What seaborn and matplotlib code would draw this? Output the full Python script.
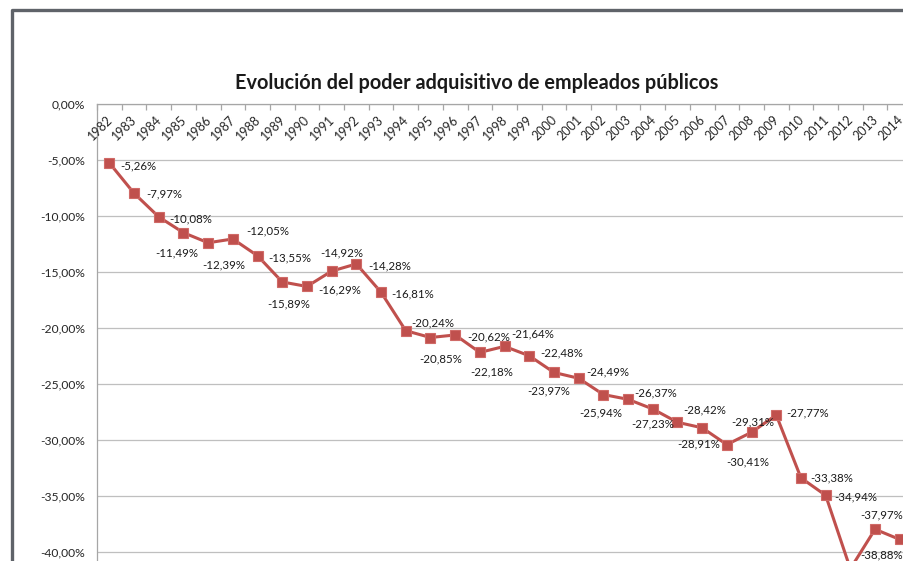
import matplotlib
matplotlib.use("Agg")
import matplotlib.pyplot as plt
import seaborn as sns
import pandas as pd
import numpy as np
from matplotlib.ticker import FuncFormatter
from matplotlib.lines import Line2D

# datos
anios = list(range(1982, 2015))
poder = [-5.26, -7.97, -10.08, -11.49, -12.39, -12.05, -13.55, -15.89, -16.29, -14.92,
         -14.28, -16.81, -20.24, -20.85, -20.62, -22.18, -21.64, -22.48, -23.97, -24.49,
         -25.94, -26.37, -27.23, -28.42, -28.91, -30.41, -29.31, -27.77, -33.38, -34.94,
         -41.50, -37.97, -38.88]
titulo = "Evolución del poder adquisitivo de empleados públicos"

# posicion de cada etiqueta respecto a su punto (pixeles, x derecha, y abajo)
desplaz = [(29, 3), (30, 1), (32, 2), (-7, 20), (16, 22), (35, -8), (32, 2), (6, 22),
           (33, 3), (10, -18), (33, 2), (32, 2), (27, -8), (10, 21), (34, 2), (12, 20),
           (28, -12), (32, -3), (-5, 18), (29, -6), (-3, 18), (28, -6), (0, 15), (27, -12),
           (-3, 16), (21, 17), (1, -10), (31, -2), (31, 0), (30, 2), (0, 18), (7, -14),
           (-18, 15)]

ROJO = '#C0504D'
GRIS = '#a6a6a6'

sns.set_style("white")
plt.rcParams['font.family'] = ['Lato', 'DejaVu Sans']

W, H = 904, 561
fig = plt.figure(figsize=(W / 100, H / 100), dpi=100)
izq, der, arr, aba = 97, 97 + 33 * 24.7, 104, 104 + 45 * 11.2
ax = fig.add_axes([izq / W, 1 - aba / H, (der - izq) / W, (aba - arr) / H])

df = pd.DataFrame({'anio': anios, 'poder': poder})
sns.lineplot(data=df, x='anio', y='poder', ax=ax, color=ROJO, lw=2.2,
             marker='s', ms=7.5, mec='#d06a67', mew=0.8)

ax.set_xlim(1981.5, 2014.5)
ax.set_ylim(-45, 0)
ax.set_xlabel('')
ax.set_ylabel('')

ax.set_yticks(np.arange(-45, 1, 5))
ax.yaxis.set_major_formatter(FuncFormatter(lambda v, p: f"{v:.2f}".replace('.', ',') + '%'))
ax.yaxis.grid(True, color='#bfbfbf', lw=0.9)
ax.tick_params(axis='y', direction='out', length=5, color=GRIS, width=0.9,
               labelsize=8.7, labelcolor='#262626', pad=3.5)

ax.xaxis.set_ticks_position('top')
ax.set_xticks(np.arange(1981.5, 2015, 1))
ax.set_xticklabels([])
ax.tick_params(axis='x', direction='in', length=4, color=GRIS, width=0.9)

for s in ['bottom', 'right']:
    ax.spines[s].set_visible(False)
for s in ['left', 'top']:
    ax.spines[s].set_color(GRIS)
    ax.spines[s].set_linewidth(0.9)

# etiquetas de los anios, giradas bajo el eje
for a in anios:
    ax.annotate(str(a), xy=(a, 0), xytext=(1, -14), textcoords='offset pixels',
                rotation=45, rotation_mode='anchor', ha='right', va='center',
                fontsize=9, color='#262626', annotation_clip=False)

# etiquetas de datos (la de 2012 queda fuera de la imagen)
ymin_visible = -40.5
for a, v, (dx, dy) in zip(anios, poder, desplaz):
    if v < ymin_visible:
        continue
    ax.annotate(f"{v:.2f}".replace('.', ',') + '%', xy=(a, v), xytext=(dx, -dy),
                textcoords='offset pixels', ha='center', va='center',
                fontsize=8.3, color='#1a1a1a')

fig.text(477 / W, 1 - 89 / H, titulo, ha='center', va='baseline',
         fontsize=14.3, fontweight='bold', color='#1a1a1a')

# marco del grafico
fig.add_artist(Line2D([11.5 / W, 11.5 / W, 1.02], [-0.05, 1 - 10 / H, 1 - 10 / H],
                      transform=fig.transFigure, color='#5f6369', lw=2.4))

fig.savefig("out.png", dpi=100)
